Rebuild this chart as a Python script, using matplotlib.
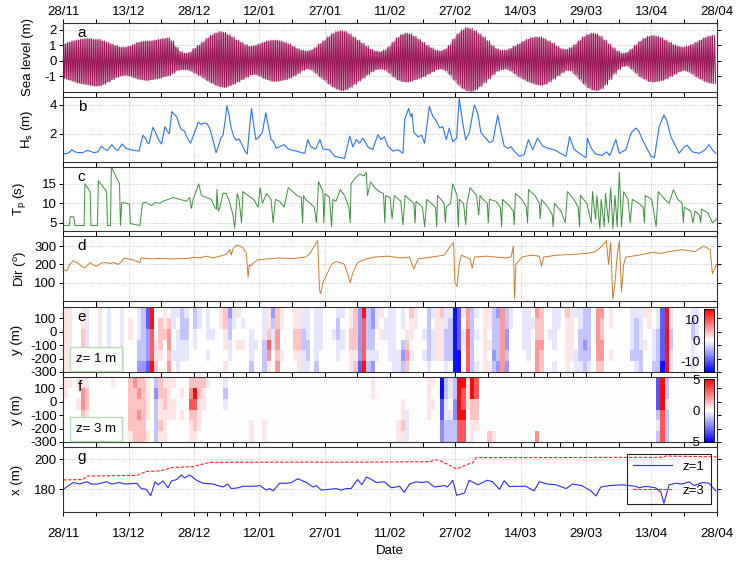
import numpy as np
import matplotlib.pyplot as plt

plt.rcParams['font.family'] = ['Liberation Sans', 'DejaVu Sans']
plt.rcParams['axes.unicode_minus'] = False
plt.rcParams['font.size'] = 9.5

n_days = 151
tick_labels = ['28/11', '13/12', '28/12', '12/01', '27/01', '11/02',
               '27/02', '14/03', '29/03', '13/04', '28/04']

# sea level: daily high / low water (m)
sea_hi = [1.1, 1.2, 1.3, 1.35, 1.4, 1.45, 1.45, 1.4, 1.4, 1.3,
          1.2, 1.1, 1.0, 0.9, 0.9, 0.95, 1.05, 1.2, 1.25, 1.3,
          1.3, 1.35, 1.4, 1.45, 1.5, 1.3, 0.9, 0.6, 0.5, 0.55,
          0.8, 1.0, 1.2, 1.45, 1.65, 1.8, 1.9, 1.85, 1.7, 1.55,
          1.35, 1.2, 1.05, 0.95, 1.0, 1.1, 1.2, 1.3, 1.35, 1.35,
          1.3, 1.2, 1.1, 0.95, 0.8, 0.7, 0.65, 0.7, 0.85, 1.1,
          1.3, 1.55, 1.75, 1.9, 1.95, 1.9, 1.75, 1.55, 1.35, 1.15,
          0.95, 0.75, 0.65, 0.6, 0.7, 0.9, 1.2, 1.5, 1.7, 1.8,
          1.75, 1.6, 1.4, 1.2, 1.0, 0.85, 0.7, 0.65, 0.75, 1.0,
          1.4, 1.75, 2.0, 2.15, 2.1, 1.95, 1.75, 1.55, 1.3, 1.0,
          0.8, 0.7, 0.7, 0.8, 0.95, 1.1, 1.25, 1.4, 1.5, 1.55,
          1.55, 1.45, 1.3, 1.15, 0.95, 0.8, 0.75, 0.85, 1.05, 1.3,
          1.55, 1.7, 1.8, 1.75, 1.6, 1.35, 1.1, 0.85, 0.65, 0.5,
          0.55, 0.75, 1.0, 1.25, 1.45, 1.6, 1.65, 1.6, 1.5, 1.35,
          1.2, 1.05, 0.95, 0.9, 0.95, 1.05, 1.2, 1.35, 1.5, 1.6, 1.65]
sea_lo = [-1.1, -1.2, -1.3, -1.4, -1.45, -1.5, -1.55, -1.6, -1.6, -1.5,
          -1.35, -1.2, -1.05, -0.95, -0.9, -0.95, -1.05, -1.15, -1.2, -1.25,
          -1.2, -1.15, -1.1, -1.0, -0.95, -0.8, -0.6, -0.55, -0.55, -0.6,
          -0.75, -0.9, -1.05, -1.25, -1.4, -1.55, -1.65, -1.7, -1.6, -1.5,
          -1.35, -1.2, -1.05, -0.9, -0.85, -0.95, -1.1, -1.2, -1.3, -1.3,
          -1.25, -1.2, -1.1, -0.95, -0.8, -0.6, -0.5, -0.55, -0.75, -1.0,
          -1.2, -1.45, -1.65, -1.8, -1.9, -1.85, -1.7, -1.5, -1.3, -1.1,
          -0.9, -0.7, -0.55, -0.5, -0.55, -0.75, -1.0, -1.2, -1.3, -1.35,
          -1.3, -1.2, -1.1, -1.0, -0.85, -0.7, -0.55, -0.5, -0.6, -0.85,
          -1.2, -1.5, -1.75, -1.9, -1.95, -1.85, -1.65, -1.4, -1.15, -0.9,
          -0.65, -0.55, -0.5, -0.6, -0.8, -1.0, -1.15, -1.3, -1.4, -1.5,
          -1.55, -1.5, -1.35, -1.15, -0.95, -0.75, -0.6, -0.6, -0.85, -1.15,
          -1.45, -1.7, -1.85, -1.9, -1.8, -1.55, -1.2, -0.85, -0.55, -0.35,
          -0.3, -0.5, -0.75, -1.0, -1.15, -1.3, -1.35, -1.3, -1.25, -1.15,
          -1.0, -0.85, -0.7, -0.6, -0.65, -0.8, -1.0, -1.15, -1.3, -1.4, -1.45]

# significant wave height (day, m)
hs_t = [0, 1, 1.5, 2, 2.7, 3.5, 4.5, 5.5, 6.2, 7, 8, 8.8, 9.5, 10.2, 11.2, 12, 12.6,
        13.6, 14.5, 15.5, 16.5, 17.5, 18.4, 19, 19.3, 19.8, 20.7, 21.3, 22, 22.7, 23.5,
        24, 24.5, 25.1, 25.6, 26.2, 26.8, 27.3, 28, 28.5, 29.4, 30.2, 31.2, 31.8, 32.5,
        33.2, 33.8, 34.4, 35.3, 35.8, 36.4, 36.9, 37.4, 37.8, 38.3, 38.8, 39.4, 40,
        40.6, 41.3, 42, 42.5, 43, 43.5, 44, 44.5, 45.3, 46, 46.8, 47.4, 48, 48.5, 49.2,
        50, 51, 52, 53, 54, 55, 55.8, 56.5, 57.2, 58.3, 59.3, 60, 61.5, 62.7, 64, 65,
        66.2, 66.9, 67.7, 68.5, 69.2, 70.4, 71.5, 72.7, 73.4, 74.2, 75, 76.2, 77.3,
        78.5, 78.9, 79.8, 80.3, 80.6, 81, 82, 82.8, 83.5, 84.6, 85.4, 86, 87, 87.7,
        88.5, 89.2, 90, 90.9, 91.5, 92.3, 93, 93.8, 95, 95.8, 96.5, 97.3, 98.5, 99.3,
        100.4, 101.2, 101.9, 102.7, 103.5, 104.2, 105.4, 106.5, 107.5, 108.5, 109.6,
        110.8, 112, 113.5, 114.6, 116.2, 117, 118, 119.2, 120.8, 121.1, 122, 123,
        124.5, 125.5, 126.3, 127.7, 128.5, 130, 131.2, 132.3, 133, 133.8, 134.6,
        135.8, 136.6, 137.7, 138.8, 139.5, 140.4, 141.5, 142.3, 143.5, 144.2, 145.4,
        147, 148.3, 149.2, 150, 150.8]
hs_v = [0.6, 0.65, 0.75, 0.9, 0.75, 0.7, 0.7, 0.85, 0.8, 0.7, 0.75, 1.15, 0.95, 0.85,
        1.25, 0.95, 0.85, 1.3, 1.0, 0.9, 0.85, 0.8, 1.9, 1.7, 1.45, 1.3, 2.45, 2.1, 1.6,
        1.3, 2.5, 2.2, 2.0, 3.55, 3.35, 3.2, 2.6, 2.3, 2.2, 1.8, 1.35, 2.0, 2.8, 2.65,
        2.75, 2.7, 2.4, 1.8, 0.7, 1.1, 1.7, 1.9, 2.9, 3.95, 3.3, 2.4, 1.8, 1.55, 1.65,
        1.25, 0.8, 0.6, 2.3, 3.75, 2.6, 1.6, 1.8, 2.1, 3.45, 2.5, 1.6, 1.5, 1.0, 1.1,
        1.25, 0.95, 0.85, 0.8, 0.7, 0.65, 1.6, 1.1, 0.95, 1.6, 0.95, 0.9, 0.45, 0.35,
        0.3, 1.85, 1.1, 1.6, 1.35, 1.7, 1.1, 0.9, 1.95, 1.6, 1.8, 1.15, 0.8, 0.9, 0.65,
        3.0, 3.75, 3.2, 3.4, 2.1, 1.8, 1.9, 1.35, 3.9, 3.2, 3.0, 2.4, 2.5, 1.6, 2.4,
        1.45, 1.7, 4.45, 2.75, 1.6, 2.05, 4.0, 3.4, 2.1, 1.8, 1.4, 1.5, 3.3, 2.05, 1.15,
        1.0, 1.1, 0.8, 0.45, 0.55, 1.6, 0.9, 1.7, 1.15, 1.0, 0.9, 0.7, 0.45, 1.8, 0.95,
        0.65, 0.35, 1.7, 1.0, 0.6, 0.5, 0.75, 0.5, 1.6, 0.65, 0.9, 2.05, 2.4, 2.2, 1.6,
        1.15, 0.45, 0.35, 2.5, 3.3, 2.9, 1.8, 1.15, 0.65, 1.1, 1.2, 0.75, 0.65, 0.9,
        1.25, 0.9, 0.65]

# peak period (day, s)
tp_t = [0, 1.4, 1.6, 2.4, 2.7, 4.8, 5.0, 6.2, 6.4, 7.9, 8.1, 10.0, 10.2, 10.9, 11.1,
        13.0, 13.2, 13.5, 14.6, 15.3, 15.5, 17.7, 18.3, 19.0, 19.8, 20.4, 21.2, 22.3,
        23.0, 24.2, 25.4, 27.0, 28.5, 29.2, 29.6, 30.0, 30.8, 31.3, 31.9, 33.0, 34.2,
        35.0, 35.4, 35.5, 35.8, 36.2, 36.9, 37.7, 38.5, 39.2, 39.6, 40.2, 40.6, 41.2,
        41.5, 42.7, 44, 45, 45.5, 46, 47, 48, 48.5, 49, 50, 51, 52, 53, 54, 55, 55.3,
        55.5, 56, 57, 58, 58.5, 59, 60, 60.2, 60.5, 61.5, 62, 62.3, 63, 64, 65, 66,
        66.3, 66.5, 67.5, 68.5, 69.5, 70, 70.3, 71, 72, 73, 74, 74.3, 74.5, 75.5, 76,
        76.5, 78, 78.5, 79, 80, 81, 81.3, 81.5, 83, 83.5, 84, 85, 86, 86.3, 86.5, 88,
        88.3, 88.5, 89.5, 90, 91, 91.3, 91.5, 92.5, 93, 93.3, 94, 95.5, 96, 96.3, 97,
        98, 98.2, 98.5, 100, 101, 101.3, 101.5, 103, 104, 104.2, 104.5, 106, 107,
        107.3, 107.5, 109, 110, 110.2, 110.5, 112, 113, 113.2, 113.5, 115, 116, 116.5,
        118, 119, 119.3, 119.5, 121, 122, 122.3, 123, 123.3, 124, 124.3, 125, 125.3,
        126, 126.5, 127, 127.5, 128, 128.5, 129, 129.5, 130.5, 131, 131.5, 133, 134,
        134.3, 134.5, 136, 137, 137.5, 139, 140, 141, 142, 143, 143.3, 143.5, 145,
        145.5, 146, 147, 147.3, 147.5, 149, 150, 151]
tp_v = [4.3, 4.3, 6.6, 6.5, 4.3, 4.3, 15.0, 13.0, 4.3, 4.3, 15.8, 13.0, 4.3, 4.3, 19.3,
        15.0, 4.3, 10.2, 10.0, 9.8, 4.8, 4.3, 10.0, 10.3, 9.8, 9.4, 10.2, 10.0, 10.5,
        11.0, 11.5, 11.0, 10.5, 11.5, 8.7, 11.0, 13.4, 15.0, 12.0, 11.5, 11.0, 9.0, 8.5,
        13.6, 8.0, 9.0, 12.6, 12.5, 10.0, 7.0, 3.6, 12.5, 11.0, 5.0, 13.0, 12.0, 11,
        9, 14, 10, 12.5, 11, 5, 11, 10.5, 9, 14, 13, 12, 11.5, 5, 12, 11, 10, 9, 5,
        15.5, 13, 5, 12.5, 11.5, 4, 11, 10.5, 13.5, 12, 9, 5, 15, 16.5, 17.5, 17, 18,
        12, 15.5, 14, 13, 12.5, 5, 12, 11.5, 6, 12, 10.5, 4.5, 12, 11, 10, 5, 10.5, 9,
        4, 11, 10, 9, 4, 12, 10, 5, 9, 10, 15, 12, 4, 11, 10, 4.5, 10, 14, 12, 7, 12,
        11, 10, 5, 11, 10.5, 9, 4, 11, 9.5, 8, 4.5, 12.5, 11, 9, 5, 13.5, 12, 10, 6,
        11, 9, 7, 4, 10, 8, 5, 13, 11, 9, 4, 12, 10, 5, 13, 6, 12, 3.5, 11, 4, 12.5,
        5, 14, 3.5, 12, 4, 18, 4, 13, 11, 5, 11, 10, 9, 5, 12, 11, 4, 13, 11, 10,
        13.5, 11, 10, 5, 9, 8, 5, 8, 7, 5, 8.5, 7.5, 5, 6]

# peak direction (day, deg)
dir_t = [0, 0.8, 1.5, 2.3, 3.5, 4.2, 5, 5.8, 6.2, 7, 7.7, 8.8, 9.8, 10.8, 11.5, 12.7,
         13.5, 14, 15, 16, 17.7, 18, 20, 22.3, 25.4, 28.5, 30, 31.5, 33, 34.6, 36.2,
         37.7, 38.5, 38.8, 39.2, 40, 40.8, 41.5, 42.3, 42.7, 43, 43.3, 44, 45, 47, 50,
         53, 56, 57, 58, 58.8, 59.2, 59.5, 60, 61, 62, 63, 64, 65, 65.8, 66.3, 67, 68,
         70, 72, 75, 78, 80, 81, 82, 85, 88, 89.5, 90.2, 90.5, 91, 91.5, 92, 94, 94.5,
         95, 98, 100, 102, 103.5, 104, 104.3, 104.6, 106, 108, 110, 110.5, 111, 114,
         118, 121, 123, 124.5, 125.5, 126, 126.5, 127, 127.5, 128, 128.5, 129, 129.5,
         130, 133, 136, 138, 140, 143, 146, 148, 149.5, 150, 151]
dir_v = [171, 165, 200, 220, 205, 190, 180, 200, 210, 195, 190, 208, 210, 205, 210, 200,
         215, 235, 230, 225, 210, 235, 230, 232, 230, 232, 238, 235, 245, 235, 245, 255,
         280, 250, 285, 305, 300, 290, 260, 130, 200, 190, 210, 225, 230, 235, 232, 240,
         260, 300, 330, 60, 40, 100, 150, 200, 215, 210, 200, 140, 100, 160, 210, 230,
         240, 245, 235, 240, 175, 230, 240, 250, 300, 320, 100, 80, 200, 250, 230, 180,
         240, 245, 240, 235, 240, 300, 10, 200, 240, 250, 245, 190, 240, 250, 255, 260,
         270, 300, 330, 200, 320, 10, 100, 250, 330, 50, 200, 240, 250, 265, 260, 270,
         280, 270, 300, 280, 150, 200]

# cross-shore position of contours z=1 and z=3 (day, m)
x1_t = [0, 2.3, 3.8, 5.4, 6.5, 8, 10, 11.2, 13, 14.2, 17, 18, 19.2, 20.2, 21.2, 21.9,
        23, 24.2, 25, 26.2, 27.3, 28, 29.2, 30.8, 32.3, 34.6, 36.9, 38, 38.8, 40.4,
        41.5, 43.8, 45.4, 46.9, 47.7, 48.5, 50, 51.5, 52.7, 54.2, 56.2, 57.7, 58.5,
        59.6, 61.5, 63, 64.2, 65.4, 66.5, 68, 69, 70, 70.8, 72.3, 74.2, 75.8, 77.7,
        78.8, 80, 81.5, 82.7, 84.2, 85.8, 88.1, 88.8, 90, 90.9, 92.7, 93.8, 95.8, 98,
        99.2, 100.8, 101.9, 103.1, 104.6, 106.9, 108.8, 110, 111.9, 113.8, 116.2,
        117.7, 119.8, 121.9, 123.1, 124.2, 126.2, 129.2, 132.3, 133.1, 134.6, 136.9,
        138.1, 138.8, 140, 141.5, 143.1, 144.6, 145.8, 147.7, 149.2, 150.8]
x1_v = [180, 184.5, 183.5, 185, 183.5, 183.5, 185, 183.5, 184.5, 183.5, 184, 180.5,
        180, 175.8, 185, 183, 185.5, 181, 185.5, 186.5, 189.5, 187.5, 189.5, 186, 184,
        183.5, 181.5, 183.5, 180.5, 181, 182, 182, 182.5, 179.5, 180.5, 179, 184, 184,
        184.5, 187, 184.5, 181.5, 182.5, 179.5, 180, 180.5, 179.5, 180.5, 180.5,
        186.5, 183, 188, 187.3, 184.5, 185, 181, 182, 178, 183.5, 185, 184.5, 185,
        181.5, 182.5, 181.5, 186, 176, 177.5, 186, 183, 186, 185, 180, 185.7, 181.8,
        182, 182, 179, 185, 183.5, 183, 180.5, 183.5, 182.5, 179, 175.6, 181.5, 182.5,
        183, 182, 181, 182, 181, 178, 170.8, 183, 184, 183.5, 185, 182.5, 184.5, 184,
        179]
x3_t = [0, 4.6, 5.5, 17, 19.2, 22.3, 25.4, 30, 33.8, 50, 70, 84.6, 86, 87, 89.2,
        90.9, 93.8, 94.6, 95.4, 110, 138.5, 139.2, 151]
x3_v = [186.2, 186.5, 188.8, 189.2, 191.8, 192.2, 194.5, 195, 197.8, 198, 198, 198.3,
        199.5, 199, 196, 193.5, 197, 197.5, 201, 201, 201.2, 202, 201.5]

# alongshore anomaly maps: one 6-cell column per day (top -> bottom)
# '.' = 0, a..e = blue levels 1..5, A..E = red levels 1..5
e_cols = """
AAAAAA AAAAAA ...... ...... AABBAA aaaaaa ...... ....AA AAAAAA ......
aaaa.. ...... ...... aaaaaa ...... .AA... ...... aaabbc bbbbbc ddcccd
EEDDDE ...AAB .BBBA. AAB... .BCCBC aa..a. a.aaaa bbbaa. abbaa. ......
bbaa.. aa.... ...... aaa.a. ..a... ...... AA.... BBAA.A cbbaa. aa....
A..A.. .a.A.. ...... ..aaab ...a.. ...... aaabbb AABDCA cbaa.. BBCCBC
AA..A. ...... ...... AABBA. AABBAA aabbaa aaabba ...... aaaaab aaaa..
...... ...... ..a... abbaa. a.aa.. ...... AABBAA BBBBAB cccccd EDDDDE
bbbbab ccbbac aa..a. A.A... .aa... aaaaa. aaaaaa ....aa aa.bcb ..ABCB
BAA.A. AA.... ...... ..a.a. bbbbba a.aaa. AAAAA. BAAAA. aabbba abbbb.
eeeeee ddddee A.aA.. CCDDDD bbbbbb a.a..a ...... AAAAAA AA.A.A bbbbcb
cbbbbc CCCCCC bbccbc aa.... ...... ...... aaaa.. aaaaa. .a.... CBBCCC
BBBCBB ...... ..a... aaaa.a aa.... ...... BAAAAA AAAAA. a...aa aabbba
bbbcbb bbbbba ...... CCCCCB CBBCCB ...... AA..A. ...... ...... ......
...... aaaab. abbbba aaaabb A..A.. AA.... ..aaab aabbbb ddddde EEEEEE
aabbaa ...... ...... ...... ...... abbaaa aaa... ...... A..... ...... ......
"""
f_cols = """
AA.... A..... ...... A.A... ACCBAA ABBAAA ...... ...... ...... ......
...... A..... ...... ...... ...... BBBBBA CBBBBB BCBCBB BBBBBB AAAA.A
...... bcbbbb BBAABA ABBAAA AAAA.. A.AA.. ...... .A.A.. ...... BCDBAA
BEDBBA BBAAA. BAA... A..... ...... ...... ...... aba... ...... ......
...... ...... ...... ....AA ...... ...... ....AA ...... ...... ......
...... ...... ...... ...... ...... ...... ...... ...... ...... ......
...... ...... ...... ...... ...... ...... ...... ...... ...... ......
...... AA.... ...... ...... ...... ...... ...... ....AA ..AABA ...aaa
...... ...... ...... ...... AAAA.. A.A... ...... eeddcc bbaabb aa.abb
bbccbb EEEEDD EDDEDD AAA... EEBBAA DDBBA. ...... ...... .....B .....A
...... ...... ...... ...... ...... ...... ...... ...... ...... .....C
...... ...... ...... ...... ...... ...... ...... ...... ...... ......
...... ...... ...... ...... ...... ...... ...... ...... ...... ......
...... ...... ...... ...... ...... ...... ...... dddbab EEEDDD bbabbb
...... ...... ...... ...... ...... ...... ...... ...... ...... ...... ......
"""
e_levels = [0, 1.5, 3.5, 6, 9.5, 14]
f_levels = [0, 0.5, 1.2, 2.2, 3.3, 4.8]


def decode(cols, levels):
    out = []
    for tok in cols.split():
        col = []
        for ch in tok:
            if ch == '.':
                col.append(0.0)
            elif ch.isupper():
                col.append(levels['ABCDE'.index(ch) + 1])
            else:
                col.append(-levels['abcde'.index(ch) + 1])
        out.append(col)
    return np.array(out).T


W, H = 736, 561
x0, x1 = 63.3, 716.7


def pos(top, bottom):
    return [x0 / W, 1 - bottom / H, (x1 - x0) / W, (bottom - top) / H]


fig = plt.figure(figsize=(W / 100, H / 100), dpi=100)
rows = [(23, 92), (97, 162), (167, 231), (236, 301), (307, 372), (377, 442), (447, 512)]
label_right = [34, 35, 28, 29, 23, 23, 23]   # right edge of each y label, px
axs = [fig.add_axes(pos(t, b)) for t, b in rows]

major = np.linspace(0, n_days, 11)
step = major[1] - major[0]
minor = []
for i in range(10):
    fr = [0.2, 0.4, 0.6, 0.8] if i in (2, 7) else [0.5]
    minor += [major[i] + f * step for f in fr]

for i, ax in enumerate(axs):
    ax.set_xlim(0, n_days)
    ax.set_xticks(major)
    ax.set_xticks(minor, minor=True)
    ax.set_xticklabels(tick_labels)
    ax.tick_params(which='both', direction='out', top=True, right=True, length=2.8,
                   width=0.7, labelbottom=(i == 6), labeltop=(i == 0), pad=2)
    for s in ax.spines.values():
        s.set_linewidth(0.8)
        s.set_color('#333333')
    ax.text(0.022, 0.96, 'abcdefg'[i], transform=ax.transAxes, fontsize=11, va='top')
    ax.yaxis.set_label_coords((label_right[i] - x0) / (x1 - x0), 0.5)
    if i not in (4, 5):
        ax.grid(True, which='major', ls=':', color='#bbbbbb', lw=0.6)

# a: sea level
ax = axs[0]
tt = (np.arange(n_days)[:, None] + np.array([0, 0.25, 0.5, 0.75])).ravel()
hi = np.array(sea_hi)
lo = np.array(sea_lo)
yy = np.column_stack([hi, lo, hi, lo]).ravel()
ax.fill_between(np.arange(n_days), lo, hi, color='#d49ab9', lw=0)
ax.plot(tt, yy, color='#9b1458', lw=0.7)
ax.set_ylim(-2.0, 2.45)
ax.set_yticks([-1, 0, 1, 2])
ax.set_ylabel('Sea level (m)')
ax.tick_params(axis='x', which='both', pad=0.5)

ax = axs[1]
ax.plot(hs_t, hs_v, color='#2a72f0', lw=0.8)
ax.set_ylim(0.05, 4.55)
ax.set_yticks([2, 4])
ax.set_ylabel('H$_\\mathregular{s}$ (m)')

ax = axs[2]
ax.plot(tp_t, tp_v, color='#3b8f3b', lw=0.7)
ax.set_ylim(2.9, 19.3)
ax.set_yticks([5, 10, 15])
ax.set_ylabel('T$_\\mathregular{p}$ (s)')

ax = axs[3]
ax.plot(dir_t, dir_v, color='#c97b2c', lw=0.7)
ax.set_ylim(0, 355)
ax.set_yticks([100, 200, 300])
ax.set_ylabel('Dir ($^\\mathregular{o}$)')

x_edges = np.arange(n_days + 1)
y_edges = np.linspace(185, -300, 7)
for k, (cols, levels, lim, ticks, lab) in enumerate(
        [(e_cols, e_levels, 15, [-10, 0, 10], 'z= 1 m'),
         (f_cols, f_levels, 5, [-5, 0, 5], 'z= 3 m')]):
    ax = axs[4 + k]
    Z = decode(cols, levels)
    m = ax.pcolormesh(x_edges, y_edges, Z, cmap='bwr', vmin=-lim, vmax=lim)
    ax.set_ylim(-300, 185)
    ax.set_yticks([-300, -200, -100, 0, 100])
    ax.set_ylabel('y (m)')
    ax.text(0.05, 0.2, lab, transform=ax.transAxes, ha='center', va='center',
            bbox=dict(facecolor='white', edgecolor='#b5dbb5', boxstyle='square,pad=0.45'))
    t, b = rows[4 + k]
    cax = fig.add_axes([704 / W, 1 - b / H, 10 / W, (b - t - 2) / H])
    cb = fig.colorbar(m, cax=cax, ticks=ticks)
    cax.yaxis.set_ticks_position('left')
    cax.yaxis.set_label_position('left')
    cax.tick_params(length=0, pad=3)
    cb.outline.set_linewidth(0.6)

ax = axs[6]
ax.plot(x1_t, x1_v, color='#2b2bff', lw=0.8, label='z=1')
ax.plot(x3_t, x3_v, color='#ff2020', lw=0.8, ls='--', dashes=(3, 1.5), label='z=3')
ax.set_ylim(165, 208)
ax.set_yticks([180, 200])
ax.set_ylabel('x (m)')
ax.tick_params(axis='x', which='both', pad=8.5)
ax.set_xlabel('Date', labelpad=4)
leg = ax.legend(loc='upper right', bbox_to_anchor=(1 - 6 / 653, 1 - 7 / 65),
                borderaxespad=0, fancybox=False, facecolor='none', edgecolor='#222222',
                handlelength=2.9, labelspacing=0.9, borderpad=0.5)
leg.get_frame().set_linewidth(0.8)
leg.get_frame().set_alpha(None)

fig.savefig('out.png', dpi=100)
